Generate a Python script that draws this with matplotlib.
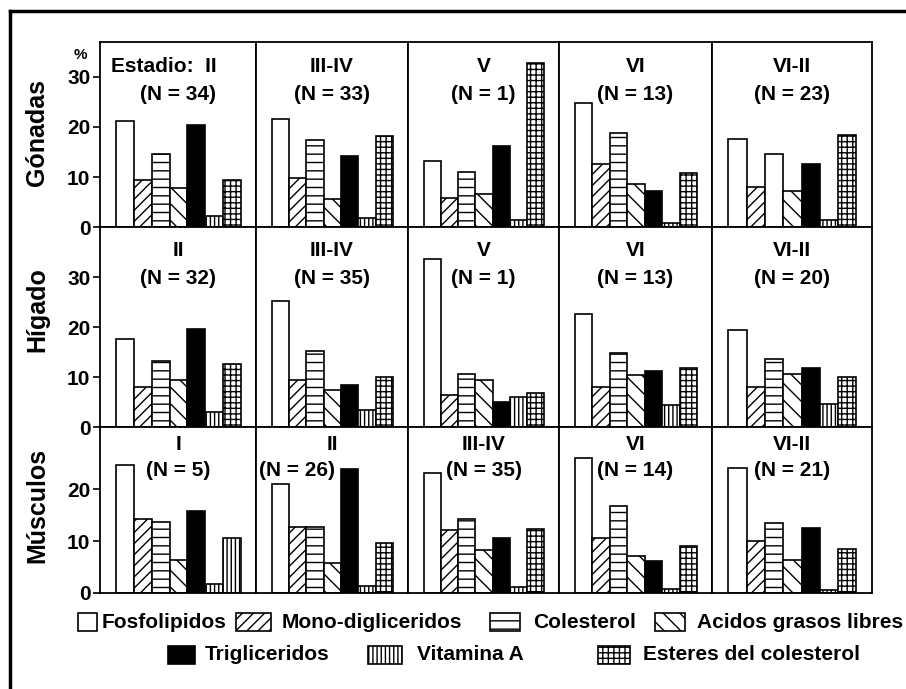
import matplotlib.pyplot as plt
from matplotlib.patches import Rectangle
from matplotlib.lines import Line2D
from matplotlib.transforms import blended_transform_factory

plt.rcParams['font.family'] = ['Liberation Sans', 'DejaVu Sans']
plt.rcParams['font.weight'] = 'bold'
plt.rcParams['hatch.linewidth'] = 1.0

# Datos (% de cada clase de lipidos)
lipidos = ['Fosfolipidos', 'Mono-digliceridos', 'Colesterol', 'Acidos grasos libres',
           'Trigliceridos', 'Vitamina A', 'Esteres del colesterol']
tejidos = ['Gónadas', 'Hígado', 'Músculos']

estadios = [['II', 'III-IV', 'V', 'VI', 'VI-II'],
            ['II', 'III-IV', 'V', 'VI', 'VI-II'],
            ['I', 'II', 'III-IV', 'VI', 'VI-II']]
n_peces = [[34, 33, 1, 13, 23],
           [32, 35, 1, 13, 20],
           [5, 26, 35, 14, 21]]

gonadas = [[21.3, 9.5, 14.6, 7.9, 20.5, 2.2, 9.5],
           [21.6, 9.8, 17.5, 5.6, 14.3, 1.8, 18.2],
           [13.3, 5.9, 11.1, 6.6, 16.2, 1.5, 32.8],
           [24.8, 12.7, 18.9, 8.7, 7.2, 0.9, 10.8],
           [17.7, 8.1, 14.6, 7.2, 12.7, 1.5, 18.4]]
higado = [[17.7, 8.1, 13.3, 9.4, 19.7, 3.1, 12.6],
          [25.2, 9.4, 15.2, 7.4, 8.4, 3.4, 10.1],
          [33.6, 6.4, 10.6, 9.4, 5.1, 6.1, 6.9],
          [22.6, 8.1, 14.9, 10.4, 11.3, 4.5, 11.9],
          [19.4, 8.1, 13.6, 10.6, 11.9, 4.7, 10.1]]
musculos = [[24.6, 14.3, 13.7, 6.4, 15.9, 1.8, 10.6],
            [21.1, 12.7, 12.8, 5.8, 24.0, 1.4, 9.6],
            [23.1, 12.2, 14.3, 8.3, 10.6, 1.2, 12.4],
            [26.0, 10.6, 16.8, 7.2, 6.2, 0.8, 9.0],
            [24.1, 10.0, 13.4, 6.4, 12.6, 0.5, 8.4]]
datos = [gonadas, higado, musculos]

tramas = ['', '///', '--', '\\\\', '', '||||', '+++']
colores = ['white', 'white', 'white', 'white', 'black', 'white', 'white']
# tramas distintas en el original
excepciones = {(0, 4, 2): '', (2, 0, 6): '||||'}

W, H = 906, 689


def fx(x):
    return x / W


def fy(y):
    return 1 - y / H


fig = plt.figure(figsize=(W / 100, H / 100), dpi=100)
gs = fig.add_gridspec(3, 5, left=fx(100), right=fx(872), top=fy(42), bottom=fy(593),
                      wspace=0, hspace=0, height_ratios=[185, 200, 166],
                      width_ratios=[156, 152, 151, 153, 160])

ylims = [37, 40, 32]
yticks = [[0, 10, 20, 30], [0, 10, 20, 30], [0, 10, 20]]
y_estadio = [32.2, 35.4, 28.7]
y_n = [26.4, 29.8, 23.7]

for i in range(3):
    for j in range(5):
        ax = fig.add_subplot(gs[i, j])
        bars = ax.bar(range(7), datos[i][j], width=1.0, color=colores,
                      edgecolor='black', linewidth=1.2)
        for k, b in enumerate(bars):
            b.set_hatch(excepciones.get((i, j, k), tramas[k]))
        ax.set_xlim(-1.4, 7.35)
        ax.set_ylim(0, ylims[i])
        ax.set_xticks([])
        for s in ax.spines.values():
            s.set_linewidth(1.3)
        if j == 0:
            ax.set_yticks(yticks[i])
            ax.tick_params(axis='y', direction='out', length=5, width=1.2,
                           labelsize=15, pad=2)
        else:
            ax.set_yticks([])
        tr = blended_transform_factory(ax.transAxes, ax.transData)
        titulo = estadios[i][j]
        xt = 0.5
        if i == 0 and j == 0:
            titulo = 'Estadio:  ' + titulo
            xt = 0.41
        ax.text(xt, y_estadio[i], titulo, transform=tr, ha='center', va='center',
                fontsize=15, fontweight='bold')
        xn = 0.27 if (i == 2 and j == 1) else 0.5
        ax.text(xn, y_n[i], '(N = %d)' % n_peces[i][j], transform=tr,
                ha='center', va='center', fontsize=15, fontweight='bold')

# etiquetas de filas
for nombre, yc in zip(tejidos, [133, 310, 505]):
    fig.text(fx(37), fy(yc), nombre, rotation=90, ha='center', va='center',
             fontsize=18, fontweight='bold')
fig.text(fx(80), fy(55), '%', ha='center', va='center', fontsize=11, fontweight='bold')

# leyenda manual
leyenda = [(78, 19, 102, 622), (236, 35, 282, 622), (490, 30, 533, 622),
           (655, 30, 697, 622), (168, 27, 205, 655), (368, 34, 417, 655),
           (598, 32, 643, 655)]
for k, (bx, bw, tx, yc) in enumerate(leyenda):
    fig.add_artist(Rectangle((fx(bx), fy(yc + 9)), bw / W, 18 / H,
                             transform=fig.transFigure, facecolor=colores[k],
                             edgecolor='black', linewidth=1.2, hatch=tramas[k]))
    fig.text(fx(tx), fy(yc), lipidos[k], ha='left', va='center',
             fontsize=15, fontweight='bold')

# marco exterior (solo izquierda y arriba visibles)
fig.add_artist(Line2D([fx(10), fx(10)], [0, fy(11)], transform=fig.transFigure,
                      color='black', linewidth=2.5))
fig.add_artist(Line2D([fx(10), 1], [fy(11), fy(11)], transform=fig.transFigure,
                      color='black', linewidth=2.5))

fig.savefig('out.png', dpi=100)
